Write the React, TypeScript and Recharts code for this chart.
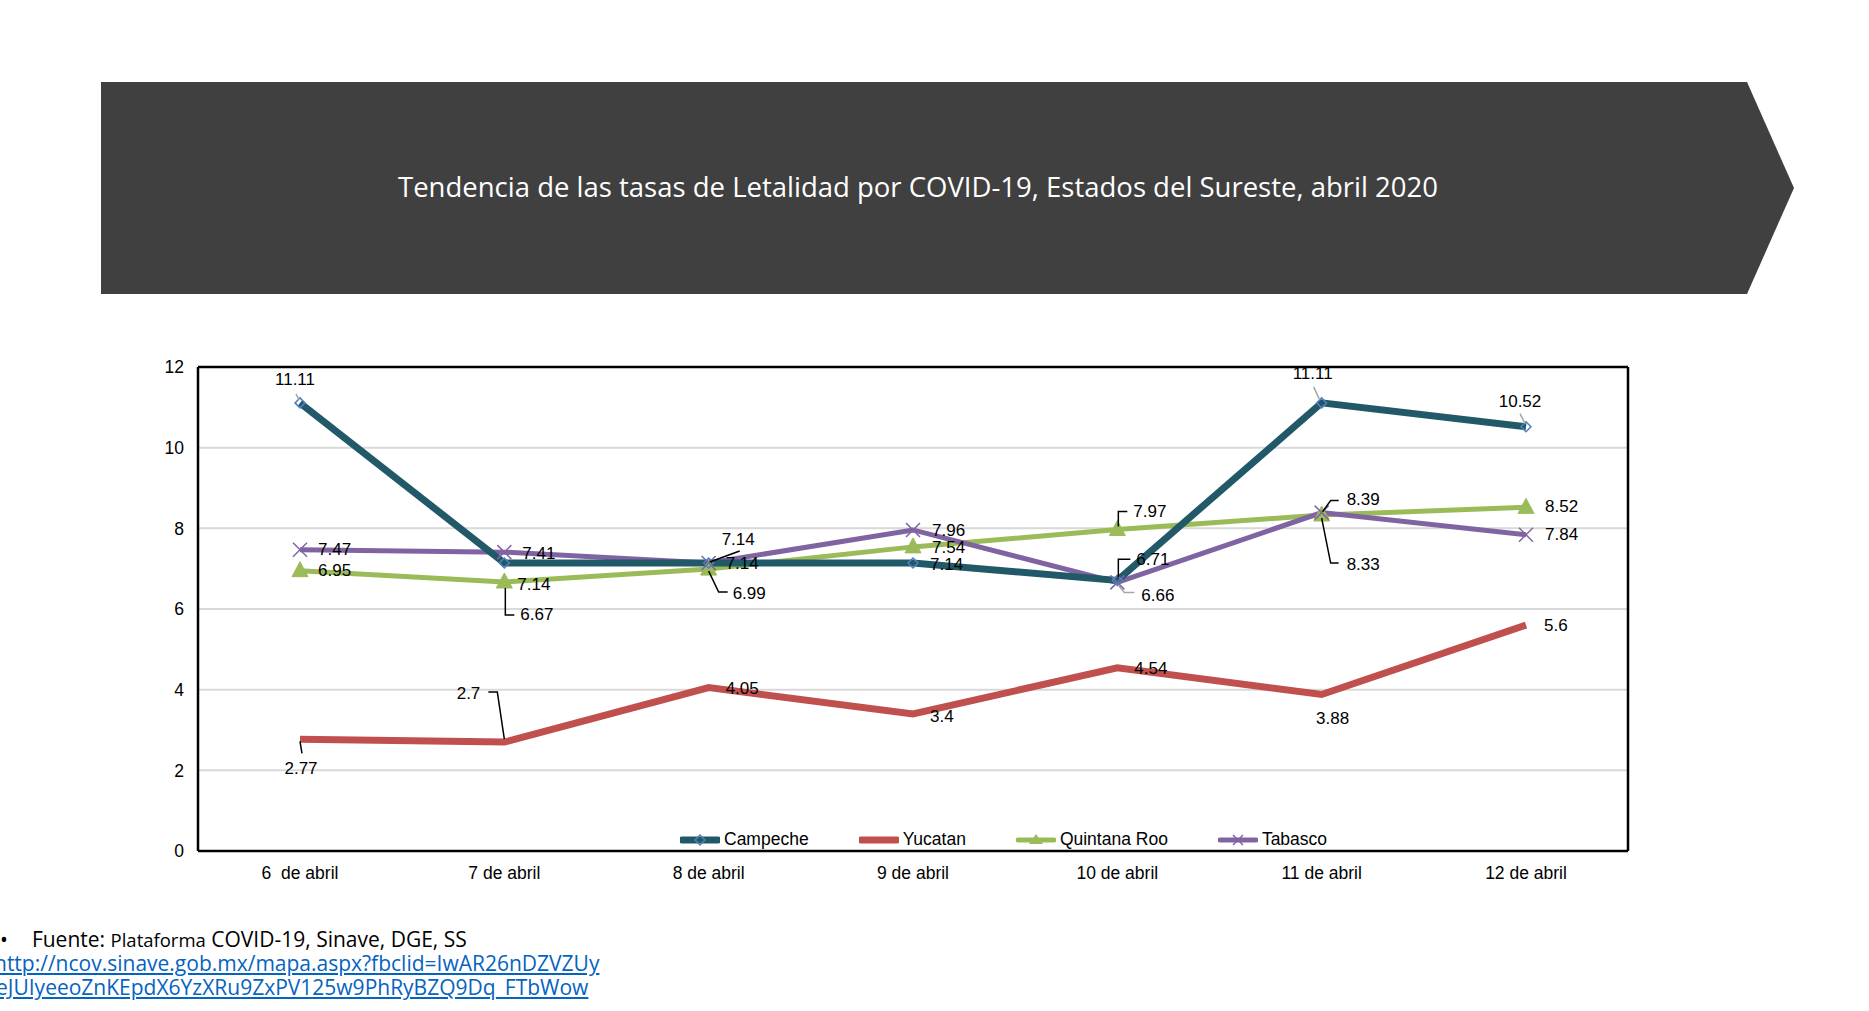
import React from "react";
import { LineChart, Line, XAxis, YAxis, CartesianGrid, Legend, LabelList } from "recharts";

const dias = ["6\u00a0 de abril", "7 de abril", "8 de abril", "9 de abril", "10 de abril", "11 de abril", "12 de abril"];
const campeche = [11.11, 7.14, 7.14, 7.14, 6.71, 11.11, 10.52];
const yucatan = [2.77, 2.7, 4.05, 3.4, 4.54, 3.88, 5.6];
const quintanaRoo = [6.95, 6.67, 6.99, 7.54, 7.97, 8.33, 8.52];
const tabasco = [7.47, 7.41, 7.14, 7.96, 6.66, 8.39, 7.84];
const yTicks = [0, 2, 4, 6, 8, 10, 12];

const data = dias.map((dia, i) => ({
  dia,
  Campeche: campeche[i],
  Yucatan: yucatan[i],
  "Quintana Roo": quintanaRoo[i],
  Tabasco: tabasco[i],
}));

const TEAL = "#215968";
const RED = "#c0504d";
const GREEN = "#9bbb59";
const PURPLE = "#8064a2";
const FONT = "'Liberation Sans', Arial, sans-serif";

// label placement relative to each point (dx, dy, anchor, optional leader line)
type Spot = { dx: number; dy: number; anchor?: "start" | "middle" | "end"; leader?: number[]; gray?: boolean };

const campecheSpots: Spot[] = [
  { dx: -5, dy: -23, anchor: "middle", leader: [-4, -9, -1, -3], gray: true },
  { dx: 13, dy: 21 },
  { dx: 17, dy: 0 },
  { dx: 17, dy: 1 },
  { dx: 19, dy: -21, leader: [1, -3, 1, -21, 13, -21] },
  { dx: -9, dy: -29, anchor: "middle", leader: [-8, -16, -2, -3], gray: true },
  { dx: -6, dy: -25, anchor: "middle", leader: [-6, -13, -1, -3], gray: true },
];
const yucatanSpots: Spot[] = [
  { dx: 1, dy: 29, anchor: "middle", leader: [0, 2, 2, 14] },
  { dx: -24, dy: -49, anchor: "end", leader: [0, -3, -7, -50, -16, -50] },
  { dx: 17, dy: 1 },
  { dx: 17, dy: 3 },
  { dx: 17, dy: 1 },
  { dx: 11, dy: 24, anchor: "middle" },
  { dx: 18, dy: 0 },
];
const quintanaSpots: Spot[] = [
  { dx: 18, dy: 0 },
  { dx: 16, dy: 33, leader: [1, 6, 1, 33, 10, 33] },
  { dx: 24, dy: 24, leader: [0, 2, 10, 23, 19, 23] },
  { dx: 19, dy: 1 },
  { dx: 16, dy: -18, leader: [1, -3, 1, -18, 10, -18] },
  { dx: 25, dy: 49, leader: [0, 3, 9, 48, 17, 48] },
  { dx: 19, dy: -1 },
];
const tabascoSpots: Spot[] = [
  { dx: 18, dy: 0 },
  { dx: 18, dy: 1 },
  { dx: 13, dy: -24, leader: [1, -1, 31, -12] },
  { dx: 19, dy: 1 },
  { dx: 24, dy: 13, leader: [1, 3, 7, 10, 17, 10], gray: true },
  { dx: 25, dy: -13, leader: [1, -1, 9, -12, 17, -12] },
  { dx: 19, dy: 0 },
];

const makeLabel = (spots: Spot[]) => (props: any) => {
  const { x, y, value, index } = props;
  const s = spots[index];
  if (!s || x == null || y == null) return null;
  const pts: string[] = [];
  if (s.leader) {
    for (let k = 0; k < s.leader.length; k += 2) pts.push(`${x + s.leader[k]},${y + s.leader[k + 1]}`);
  }
  return (
    <g key={`lbl-${index}`}>
      {s.leader && (
        <polyline points={pts.join(" ")} fill="none" stroke={s.gray ? "#a6a6a6" : "#000"} strokeWidth={1.5} />
      )}
      <text
        x={x + s.dx}
        y={y + s.dy}
        textAnchor={s.anchor || "start"}
        dominantBaseline="central"
        fontFamily={FONT}
        fontSize={17}
        fill="#000"
      >
        {value}
      </text>
    </g>
  );
};

const diamond = (cx: number, cy: number, r: number) =>
  `M${cx},${cy - r} L${cx + r},${cy} L${cx},${cy + r} L${cx - r},${cy} Z`;

const campecheDot = (p: any) => (
  <path key={`cd-${p.index}`} d={diamond(p.cx, p.cy, 5)} fill="none" stroke="#4f81bd" strokeWidth={1.5} />
);
const quintanaDot = (p: any) => (
  <path
    key={`qd-${p.index}`}
    d={`M${p.cx},${p.cy - 9} L${p.cx + 8},${p.cy + 6} L${p.cx - 8},${p.cy + 6} Z`}
    fill={GREEN}
    stroke={GREEN}
  />
);
const tabascoDot = (p: any) => (
  <path
    key={`td-${p.index}`}
    d={`M${p.cx - 7},${p.cy - 7} L${p.cx + 7},${p.cy + 7} M${p.cx - 7},${p.cy + 7} L${p.cx + 7},${p.cy - 7}`}
    stroke={PURPLE}
    strokeWidth={1.5}
  />
);

const legendItems = [
  { name: "Campeche", color: TEAL, width: 7, mark: "diamond" },
  { name: "Yucatan", color: RED, width: 7, mark: "none" },
  { name: "Quintana Roo", color: GREEN, width: 5, mark: "triangle" },
  { name: "Tabasco", color: PURPLE, width: 5, mark: "x" },
];

const renderLegend = () => (
  <div style={{ display: "flex", alignItems: "center", fontFamily: FONT, fontSize: 17.5, color: "#000" }}>
    {legendItems.map((it, i) => (
      <div key={it.name} style={{ display: "flex", alignItems: "center", marginRight: i < 3 ? 50 : 0 }}>
        <svg width={40} height={16} style={{ marginRight: 4 }}>
          <line x1={2} y1={8} x2={38} y2={8} stroke={it.color} strokeWidth={it.width} strokeLinecap="round" />
          {it.mark === "diamond" && <path d={diamond(20, 8, 5)} fill="none" stroke="#4f81bd" strokeWidth={1.5} />}
          {it.mark === "triangle" && <path d="M20,2 L27,12 L13,12 Z" fill={GREEN} />}
          {it.mark === "x" && <path d="M15,3 L25,13 M15,13 L25,3" stroke={PURPLE} strokeWidth={1.5} />}
        </svg>
        <span>{it.name}</span>
      </div>
    ))}
  </div>
);

const axisLine = { stroke: "#000", strokeWidth: 2.5 };

export default function App() {
  return (
    <div style={{ position: "absolute", left: 0, top: 0, width: 1869, height: 1011, background: "#fff", overflow: "hidden" }}>
      <div
        style={{
          position: "absolute",
          left: 101,
          top: 82,
          width: 1693,
          height: 212,
          background: "#404040",
          clipPath: "polygon(0 0, 1646px 0, 1693px 106px, 1646px 212px, 0 212px)",
        }}
      />
      <div
        style={{
          position: "absolute",
          left: 0,
          width: 1836,
          top: 168,
          textAlign: "center",
          color: "#fff",
          fontFamily: "'Open Sans', sans-serif",
          fontSize: 27.5,
          lineHeight: "38px",
        }}
      >
        Tendencia de las tasas de Letalidad por COVID-19, Estados del Sureste, abril 2020
      </div>

      <div style={{ position: "absolute", left: 0, top: 0 }}>
        <LineChart width={1869} height={1011} data={data} margin={{ top: 365, right: 239, bottom: 120, left: 138 }}>
          <CartesianGrid vertical={false} stroke="#d9d9d9" strokeWidth={2} />
          <XAxis
            dataKey="dia"
            padding={{ left: 102, right: 102 }}
            height={40}
            tickLine={false}
            tickSize={0}
            tickMargin={16}
            axisLine={axisLine}
            tick={{ fontFamily: FONT, fontSize: 17.5, fill: "#000" }}
          />
          <XAxis
            xAxisId="top"
            orientation="top"
            dataKey="dia"
            padding={{ left: 102, right: 102 }}
            height={2}
            tick={false}
            tickLine={false}
            axisLine={axisLine}
          />
          <YAxis
            domain={[0, 12]}
            ticks={yTicks}
            width={60}
            tickLine={false}
            tickSize={0}
            tickMargin={14}
            axisLine={axisLine}
            tick={{ fontFamily: FONT, fontSize: 17.5, fill: "#000" }}
          />
          <YAxis
            yAxisId="right"
            orientation="right"
            domain={[0, 12]}
            ticks={yTicks}
            width={2}
            tick={false}
            tickLine={false}
            axisLine={axisLine}
          />
          <Line
            xAxisId="top"
            yAxisId="right"
            dataKey="Yucatan"
            stroke={RED}
            strokeWidth={7}
            dot={false}
            activeDot={false}
            isAnimationActive={false}
          >
            <LabelList dataKey="Yucatan" content={makeLabel(yucatanSpots)} />
          </Line>
          <Line dataKey="Quintana Roo" stroke={GREEN} strokeWidth={5} dot={quintanaDot} activeDot={false} isAnimationActive={false}>
            <LabelList dataKey="Quintana Roo" content={makeLabel(quintanaSpots)} />
          </Line>
          <Line dataKey="Tabasco" stroke={PURPLE} strokeWidth={5} dot={tabascoDot} activeDot={false} isAnimationActive={false}>
            <LabelList dataKey="Tabasco" content={makeLabel(tabascoSpots)} />
          </Line>
          <Line dataKey="Campeche" stroke={TEAL} strokeWidth={7} dot={campecheDot} activeDot={false} isAnimationActive={false}>
            <LabelList dataKey="Campeche" content={makeLabel(campecheSpots)} />
          </Line>
          <Legend
            layout="horizontal"
            verticalAlign="middle"
            align="center"
            content={renderLegend}
            wrapperStyle={{ left: 680, top: 829, width: "auto" }}
          />
        </LineChart>
      </div>

      <div style={{ position: "absolute", left: 0, top: 925, fontFamily: "'Open Sans', sans-serif", color: "#000", fontSize: 21, lineHeight: "28px", whiteSpace: "nowrap" }}>
        <span style={{ marginRight: 24 }}>•</span>
        <span>Fuente: </span>
        <span style={{ fontSize: 18.5 }}>Plataforma</span>
        <span> COVID-19, Sinave, DGE, SS</span>
      </div>
      <div style={{ position: "absolute", left: -6, top: 951, fontFamily: "'Open Sans', sans-serif", color: "#0563c1", fontSize: 21, lineHeight: "24px", textDecoration: "underline", whiteSpace: "nowrap" }}>
        <div>http://ncov.sinave.gob.mx/mapa.aspx?fbclid=IwAR26nDZVZUy</div>
        <div style={{ marginLeft: 2 }}>eJUIyeeoZnKEpdX6YzXRu9ZxPV125w9PhRyBZQ9Dq_FTbWow</div>
      </div>
    </div>
  );
}
